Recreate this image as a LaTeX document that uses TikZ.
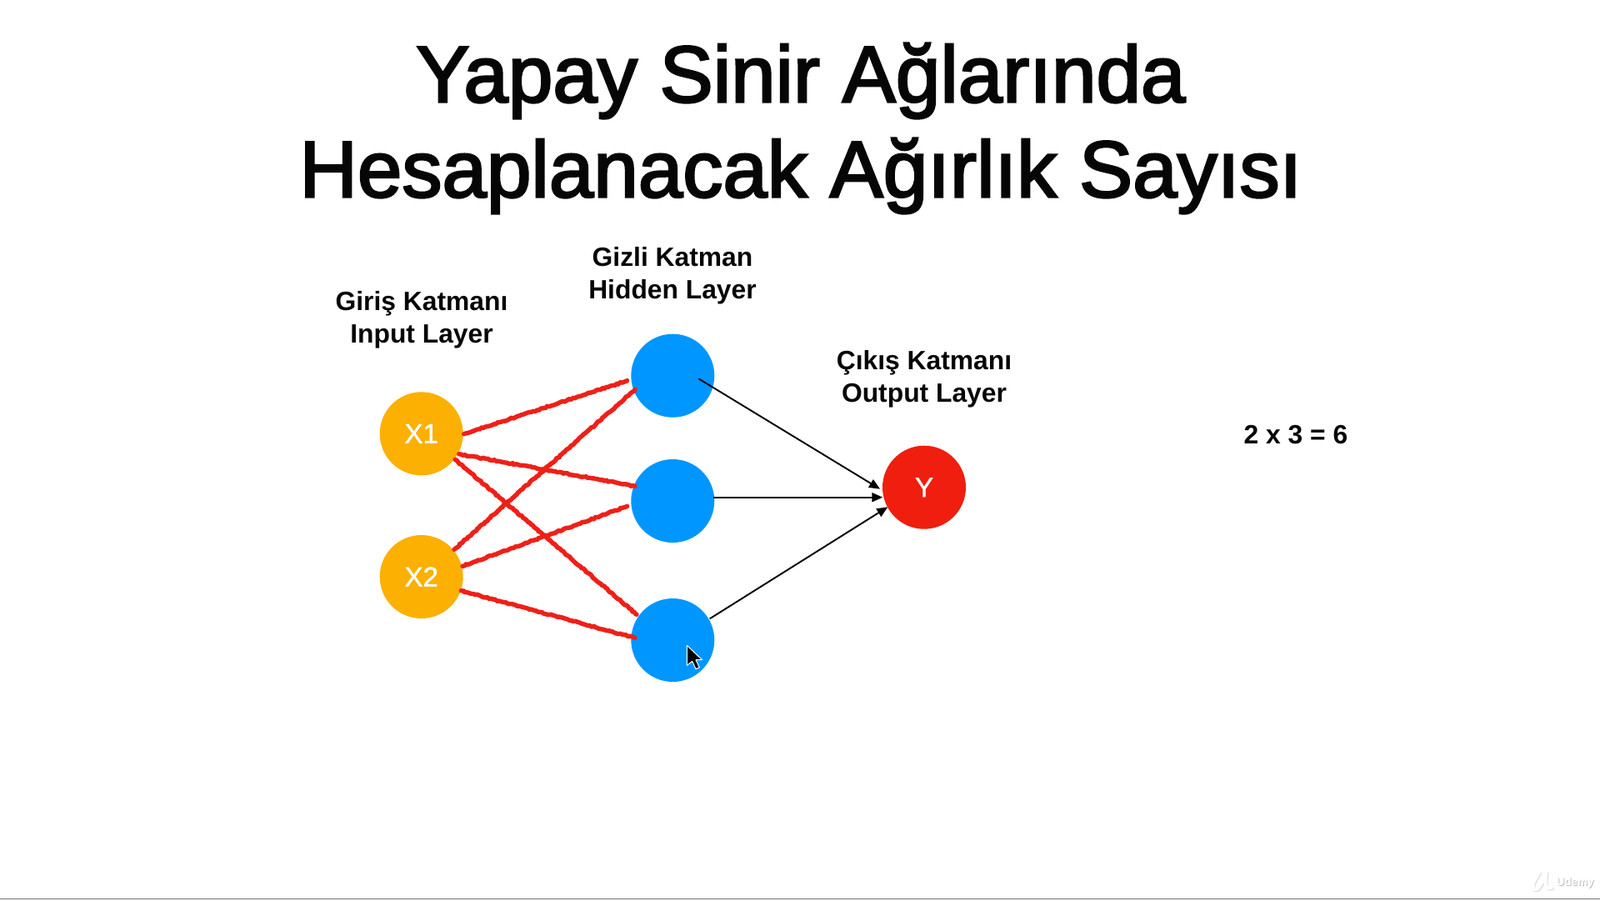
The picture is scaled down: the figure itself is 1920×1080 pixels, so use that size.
\documentclass[tikz,border=0pt]{standalone}
\usepackage{fontspec}
\setmainfont{Liberation Sans}
\newfontfamily\medfont[FakeBold=2.6]{Liberation Sans}
\newfontfamily\numfont[FakeBold=1.2]{Liberation Sans}
\usetikzlibrary{calc,arrows.meta,decorations.pathmorphing}
\definecolor{inp}{HTML}{FCB002}
\definecolor{hid}{HTML}{0096FF}
\definecolor{outc}{HTML}{F01E0E}
\definecolor{redl}{HTML}{EE2018}
\definecolor{ink}{HTML}{060606}
\tikzset{
  x=1pt,y=-1pt,
  neuron/.style={circle,inner sep=0pt,minimum size=100pt,text=white,font=\numfont\fontsize{33}{33}\selectfont},
  inputn/.style={neuron,fill=inp},
  hiddenn/.style={neuron,fill=hid},
  outputn/.style={neuron,fill=outc},
  lab/.style={align=center,text=ink,inner sep=0pt,font=\fontsize{31.8}{39}\selectfont\bfseries},
  weight/.style={draw=redl,line width=5.4pt,line cap=round,decorate,decoration={random steps,segment length=2.5pt,amplitude=0.7pt}},
  conn/.style={draw=black,line width=1.9pt,-{Triangle[length=13pt,width=11pt]}},
  wmark/.style={inner sep=0pt,font=\fontsize{13.5}{15}\selectfont\bfseries},
  wmstroke/.style={line width=4pt,line cap=round},
}
\begin{document}
\begin{tikzpicture}
\useasboundingbox (0,0) rectangle (1920,1080);
\fill[white] (0,0) rectangle (1920,1080);
\node[align=center,text=ink,inner sep=0pt,font=\medfont\fontsize{96.2}{114}\selectfont] (title) at (961,154) {Yapay Sinir Ağlarında\\Hesaplanacak Ağırlık Sayısı};
\node[lab] (linp) at (506,383.5) {Giriş Katmanı\\Input Layer};
\node[lab] (lhid) at (807,331) {Gizli Katman\\Hidden Layer};
\node[lab] (lout) at (1109,454.5) {Çıkış Katmanı\\Output Layer};
\node[lab] (calc) at (1555,522) {2 x 3 = 6};
\node[inputn] (x1) at (505.7,520.3) {X1};
\node[inputn] (x2) at (505.7,692) {X2};
\node[hiddenn] (h1) at (807.3,450.7) {};
\node[hiddenn] (h2) at (807.3,601) {};
\node[hiddenn] (h3) at (807.3,768) {};
\node[outputn] (y) at (1109,584.7) {Y};
\draw[weight] ($(x1)+(51,0.4)$) -- ($(h1)+(-54.6,6)$);
\draw[weight] ($(x1)+(45,24.4)$) -- ($(h2)+(-45.3,-17.7)$);
\draw[weight] ($(x1)+(40.3,31)$) -- ($(h3)+(-43.3,-30.7)$);
\draw[weight] ($(x2)+(39.3,-32.7)$) -- ($(h1)+(-45.3,16.6)$);
\draw[weight] ($(x2)+(49.3,-12.7)$) -- ($(h2)+(-54.6,6.3)$);
\draw[weight] ($(x2)+(47.6,16.7)$) -- ($(h3)+(-45.3,-2.7)$);
\draw[conn] ($(h1)+(31,3.6)$) -- ($(y)+(-53,2)$);
\draw[conn] ($(h2)+(49,-4.3)$) -- ($(y)+(-49.7,12)$);
\draw[conn] ($(h3)+(44.4,-25.7)$) -- ($(y)+(-43.7,23.6)$);
\fill[black,draw=white,line width=1pt,line join=round] (824.3,774.3) -- (824.3,798.3) -- (830.7,793.3) -- (835,802.7) -- (839.3,800.7) -- (835,791.7) -- (842.6,791.7) -- cycle;
\draw[draw=black!55,line width=1.6pt] (0,1078.5) -- (1920,1078.5);
\draw[wmstroke,draw=black!14] (1848,1048) .. controls (1843,1056) and (1838,1063) .. (1842,1068) .. controls (1848,1071) and (1853,1054) .. (1856,1052) .. controls (1855,1060) and (1855,1069) .. (1863,1066);
\draw[wmstroke,draw=white] (1847,1047) .. controls (1842,1055) and (1837,1062) .. (1841,1067) .. controls (1847,1070) and (1852,1053) .. (1855,1051) .. controls (1854,1059) and (1854,1068) .. (1862,1065);
\node[wmark,text=black!25] (wmshadow) at (1891,1060) {Udemy};
\node[wmark,text=white] (wm) at (1890,1059) {Udemy};
\end{tikzpicture}
\end{document}
